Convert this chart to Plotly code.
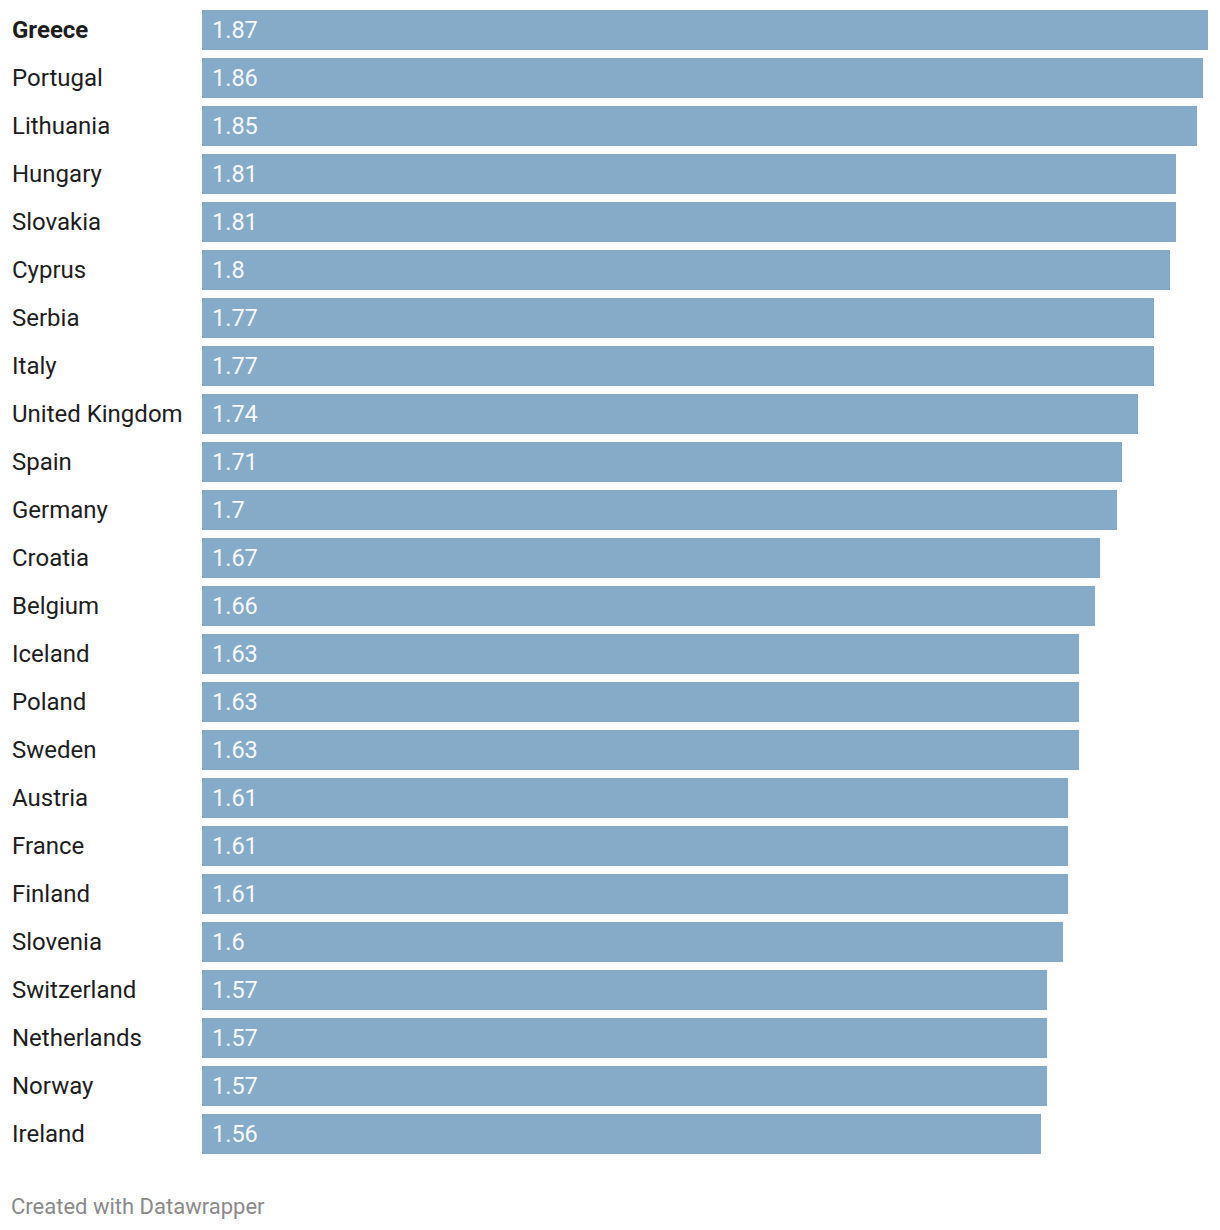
import plotly.graph_objects as go

countries = ["Greece", "Portugal", "Lithuania", "Hungary", "Slovakia", "Cyprus", "Serbia", "Italy",
             "United Kingdom", "Spain", "Germany", "Croatia", "Belgium", "Iceland", "Poland", "Sweden",
             "Austria", "France", "Finland", "Slovenia", "Switzerland", "Netherlands", "Norway", "Ireland"]
values = [1.87, 1.86, 1.85, 1.81, 1.81, 1.8, 1.77, 1.77, 1.74, 1.71, 1.7, 1.67, 1.66, 1.63, 1.63, 1.63,
          1.61, 1.61, 1.61, 1.6, 1.57, 1.57, 1.57, 1.56]
value_labels = ["1.87", "1.86", "1.85", "1.81", "1.81", "1.8", "1.77", "1.77", "1.74", "1.71", "1.7",
                "1.67", "1.66", "1.63", "1.63", "1.63", "1.61", "1.61", "1.61", "1.6", "1.57", "1.57",
                "1.57", "1.56"]
highlight = "Greece"

W, H = 1220, 1230
ML, MR, MT, MB = 202, 12, 6, 72
FONT = "Roboto"

fig = go.Figure(go.Bar(
    x=values, y=countries, orientation="h",
    marker=dict(color="#85abc8", line=dict(width=0)),
    width=40 / 48,
    hoverinfo="skip",
))

plot_w = W - ML - MR
plot_h = H - MT - MB
ann = []
for c, v, lab in zip(countries, values, value_labels):
    ann.append(dict(x=(10 - ML) / plot_w, xref="x domain", y=c, yref="y",
                    text=f"<b>{c}</b>" if c == highlight else c,
                    xanchor="left", yanchor="middle", showarrow=False,
                    font=dict(family=FONT, size=24, color="#1d1d1d")))
    ann.append(dict(x=0, xref="x", y=c, yref="y", text=lab, xanchor="left", yanchor="middle",
                    xshift=8, showarrow=False,
                    font=dict(family=FONT, size=23.5, color="rgba(255,255,255,0.95)")))

ann.append(dict(x=(9 - ML) / plot_w, xref="paper", y=-(1206 - (H - MB)) / plot_h, yref="paper",
                text="Created with Datawrapper",
                showarrow=False, xanchor="left", yanchor="middle",
                font=dict(family=FONT, size=22, color="#8a8a8a")))

fig.update_layout(
    width=W, height=H,
    margin=dict(l=ML, r=MR, t=MT, b=MB),
    paper_bgcolor="white", plot_bgcolor="white",
    showlegend=False,
    bargap=0,
    xaxis=dict(range=[0, max(values)], visible=False, fixedrange=True),
    yaxis=dict(categoryorder="array", categoryarray=countries[::-1], showticklabels=False,
               showgrid=False, zeroline=False, showline=False, fixedrange=True),
    annotations=ann,
    font=dict(family=FONT),
)

fig.write_html("out.html", config={"displayModeBar": False})
